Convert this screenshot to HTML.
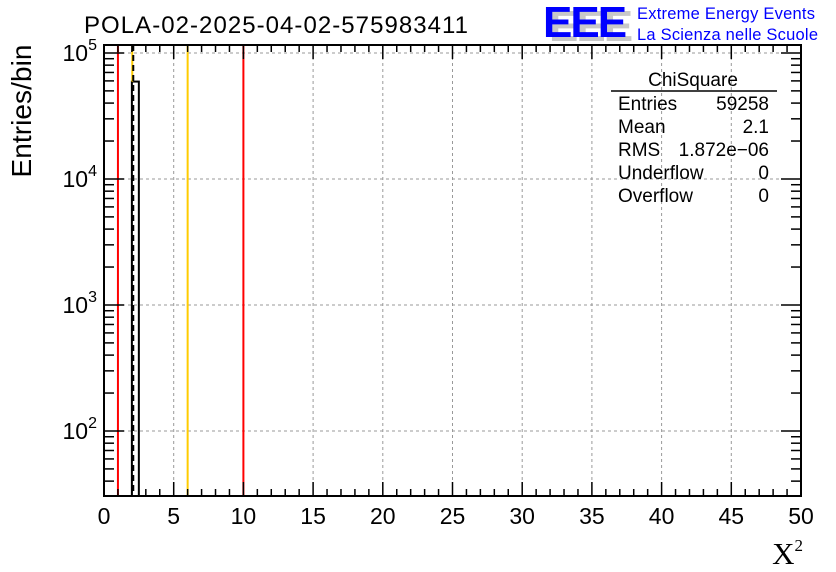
<!DOCTYPE html>
<html><head><meta charset="utf-8"><style>
body{margin:0;background:#fff;}
svg{display:block;font-family:"Liberation Sans",sans-serif;}
</style></head><body>
<svg id="c" width="836" height="572" xmlns="http://www.w3.org/2000/svg">
<text x="84" y="33" font-size="24" textLength="384">POLA-02-2025-04-02-575983411</text>
<g>
<text x="549" y="41" font-size="44" font-weight="bold" fill="#c8c8c8" letter-spacing="-2">EEE</text>
<text x="543" y="37" font-size="44" font-weight="bold" fill="#0000ff" letter-spacing="-2">EEE</text>
<text x="637" y="19" font-size="16.5" fill="#0000ff" textLength="178">Extreme Energy Events</text>
<text x="637" y="40" font-size="16.5" fill="#0000ff" textLength="181">La Scienza nelle Scuole</text>
</g>
<g id="grid"></g>
<g id="marks"></g>
<g id="axes"></g>
<text x="31" y="111" font-size="28" transform="rotate(-90 31 111)" text-anchor="middle" textLength="133">Entries/bin</text>
<text x="803" y="564" font-size="31" font-family="Liberation Serif,serif" text-anchor="end">X<tspan font-size="17" dy="-13">2</tspan></text>
<g font-size="19">
<text x="693" y="86" text-anchor="middle">ChiSquare</text>
<line x1="611" y1="91" x2="777" y2="91" stroke="#000" stroke-width="1.5"/>
<text x="618" y="110">Entries</text><text x="769" y="110" text-anchor="end">59258</text>
<text x="618" y="133">Mean</text><text x="769" y="133" text-anchor="end">2.1</text>
<text x="618" y="156">RMS</text><text x="769" y="156" text-anchor="end">1.872e−06</text>
<text x="618" y="179">Underflow</text><text x="769" y="179" text-anchor="end">0</text>
<text x="618" y="202">Overflow</text><text x="769" y="202" text-anchor="end">0</text>
</g>
</svg>
<script>
const xTicks=[0,5,10,15,20,25,30,35,40,45,50];
const yDecades=[2,3,4,5];
const binEdges=[2.0,2.5];
const binCounts=[59258];
const redLines=[1,10];
const yellowLines=[6];
const meanValue=2.1;
const L=104,R=801,T=45,B=496;
const xMin=0,xMax=50,yLogMin=1.484,yLogMax=5.063;
const X=v=>L+(v-xMin)/(xMax-xMin)*(R-L);
const Y=v=>B-(Math.log10(v)-yLogMin)/(yLogMax-yLogMin)*(B-T);
const NS="http://www.w3.org/2000/svg";
function mk(p,tag,a){const e=document.createElementNS(NS,tag);for(const k in a)e.setAttribute(k,a[k]);document.getElementById(p).appendChild(e);return e;}
xTicks.forEach(t=>{if(t>0&&t<50){const e=mk('grid','line',{x1:X(t),x2:X(t),y1:T,y2:B,stroke:'#999','stroke-dasharray':'3,3'});

}});
yDecades.forEach(d=>{const y=Y(Math.pow(10,d));const e=mk('grid','line',{x1:L,x2:R,y1:y,y2:y,stroke:'#999','stroke-dasharray':'3,3'});

});
binCounts.forEach((c,i)=>{const e=mk('marks','rect',{x:X(binEdges[i]),y:Y(c),width:X(binEdges[i+1])-X(binEdges[i]),height:B-Y(c),fill:'none',stroke:'#000','stroke-width':2});

});
redLines.forEach(v=>{const e=mk('marks','line',{x1:X(v),x2:X(v),y1:T,y2:B,stroke:'#ff0000','stroke-width':2});

});
yellowLines.forEach(v=>{const e=mk('marks','line',{x1:X(v),x2:X(v),y1:T,y2:B,stroke:'#ffcc00','stroke-width':2});

});
{const e=mk('marks','line',{x1:X(meanValue)-1,x2:X(meanValue)-1,y1:T,y2:Y(binCounts[0]),stroke:'#ffcc00','stroke-width':2});

}
{const e=mk('marks','line',{x1:X(meanValue),x2:X(meanValue),y1:T,y2:B,stroke:'#000','stroke-width':2,'stroke-dasharray':'6,4'});

}
{const e=mk('axes','rect',{x:L,y:T,width:R-L,height:B-T,fill:'none',stroke:'#000','stroke-width':2});

}
for(let v=0;v<=50;v+=1){const big=v%5===0;const h=big?14:7;
mk('axes','line',{x1:X(v),x2:X(v),y1:B,y2:B-h,stroke:'#000','stroke-width':1.5});
mk('axes','line',{x1:X(v),x2:X(v),y1:T,y2:T+h,stroke:'#000','stroke-width':1.5});}
xTicks.forEach(t=>{const e=mk('axes','text',{x:X(t),y:B+28,'font-size':23,'text-anchor':'middle'});e.textContent=t;

});
for(let d=1;d<=5;d++){for(let m=1;m<10;m++){const v=m*Math.pow(10,d);if(v<Math.pow(10,yLogMin)||v>Math.pow(10,yLogMax))continue;const h=m===1?20:10;const y=Y(v);
mk('axes','line',{x1:L,x2:L+h,y1:y,y2:y,stroke:'#000','stroke-width':1.5});
mk('axes','line',{x1:R,x2:R-h,y1:y,y2:y,stroke:'#000','stroke-width':1.5});}}
yDecades.forEach(d=>{const e=mk('axes','text',{x:97,y:Y(Math.pow(10,d))+8,'font-size':23,'text-anchor':'end'});
e.innerHTML='10<tspan font-size="16" dy="-11">'+d+'</tspan>';

});
</script>
</body></html>
